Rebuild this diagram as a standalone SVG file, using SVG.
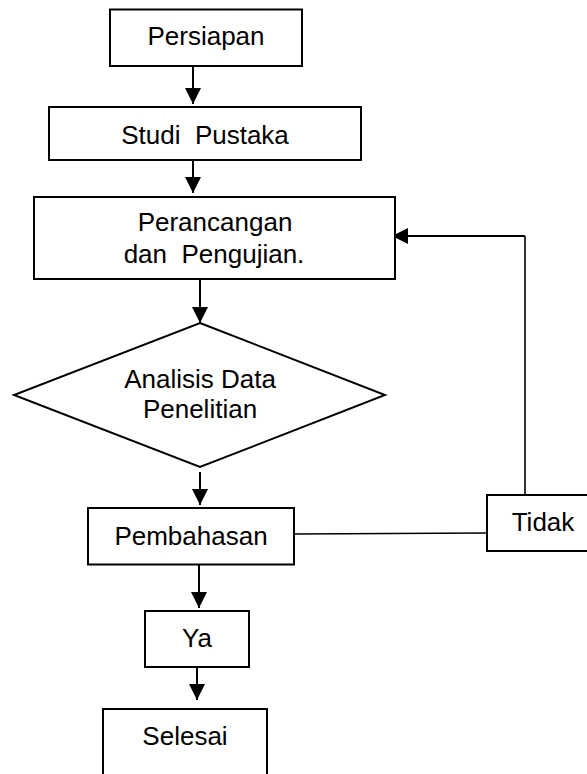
<svg xmlns="http://www.w3.org/2000/svg" width="587" height="774" viewBox="0 0 587 774">
<style>
.box{fill:#fff;stroke:#000;stroke-width:2}
.t{font-family:"Liberation Sans",Arial,sans-serif;font-size:26px;fill:#000;text-anchor:middle;white-space:pre}
.c{fill:none;stroke:#000;stroke-width:2}
.thin{fill:none;stroke:#000;stroke-width:1.6}
</style>
<defs>
<marker id="ah" markerUnits="userSpaceOnUse" markerWidth="16" markerHeight="16" viewBox="0 0 15 15" refX="15" refY="7.5" orient="auto">
<path d="M0,0 L15,7.5 L0,15 z" fill="#000"/>
</marker>
</defs>
<rect width="587" height="774" fill="#fff"/>
<g id="connectors">
<line class="c" x1="193" y1="66" x2="193" y2="104" marker-end="url(#ah)"/>
<line class="c" x1="193" y1="160" x2="193" y2="193" marker-end="url(#ah)"/>
<line class="c" x1="200" y1="279" x2="200" y2="323" marker-end="url(#ah)"/>
<line class="c" x1="200" y1="472" x2="200" y2="505" marker-end="url(#ah)"/>
<line class="c" x1="199" y1="564" x2="199" y2="608" marker-end="url(#ah)"/>
<line class="c" x1="197" y1="667" x2="197" y2="700" marker-end="url(#ah)"/>
<polyline class="thin" points="525,495 525,236"/>
<line class="c" x1="525" y1="236" x2="392" y2="236" marker-end="url(#ah)"/>
<line class="thin" x1="294" y1="534" x2="487" y2="533"/>
</g>
<g id="persiapan">
<rect class="box" x="110" y="9.5" width="192" height="56.5"/>
<text class="t" x="206" y="45">Persiapan</text>
</g>
<g id="studi-pustaka">
<rect class="box" x="49" y="107" width="312" height="53"/>
<text class="t" x="205" y="144">Studi  Pustaka</text>
</g>
<g id="perancangan">
<rect class="box" x="34" y="197" width="361" height="82"/>
<text class="t" x="215" y="231">Perancangan</text>
<text class="t" x="214" y="263">dan  Pengujian.</text>
</g>
<g id="analisis">
<polygon class="box" points="200,323 385,395 200,467 14,395"/>
<text class="t" x="200" y="388">Analisis Data</text>
<text class="t" x="200" y="418">Penelitian</text>
</g>
<g id="pembahasan">
<rect class="box" x="88" y="508" width="206" height="56.5"/>
<text class="t" x="191" y="545">Pembahasan</text>
</g>
<g id="tidak">
<rect class="box" x="487" y="495" width="113" height="56"/>
<text class="t" x="543" y="531">Tidak</text>
</g>
<g id="ya">
<rect class="box" x="145" y="611" width="104" height="56"/>
<text class="t" x="197" y="647">Ya</text>
</g>
<g id="selesai">
<rect class="box" x="103" y="709" width="164" height="80"/>
<text class="t" x="185" y="745">Selesai</text>
</g>
</svg>
